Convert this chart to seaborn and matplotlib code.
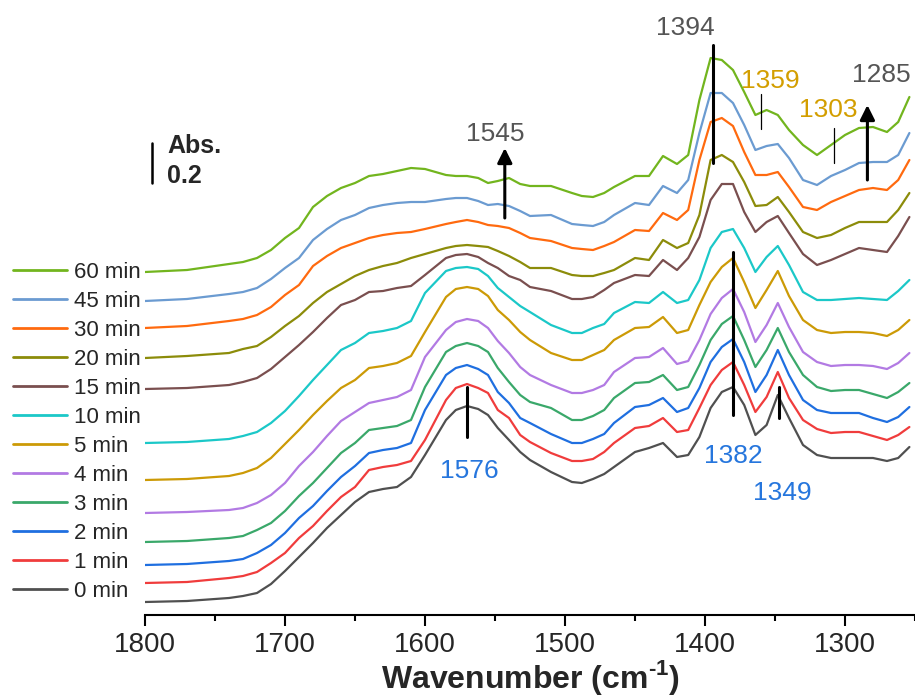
"""Stacked in-situ IR spectra (1800-1254 cm-1) recorded over 60 min."""
import matplotlib
matplotlib.use("Agg")
import matplotlib.pyplot as plt
import pandas as pd
import seaborn as sns
from matplotlib.lines import Line2D

# wavenumber grid (cm-1) and stacked absorbance traces (mAbs, offset included)
WAVENUMBER = [1800, 1770, 1740, 1730, 1720, 1710, 1700, 1690, 1680, 1670,
              1660, 1650, 1640, 1630, 1620, 1610, 1600, 1585, 1578, 1570,
              1562, 1555, 1548, 1540, 1532, 1525, 1510, 1495, 1488, 1480,
              1472, 1465, 1450, 1440, 1430, 1420, 1412, 1404, 1396, 1388,
              1380, 1372, 1364, 1356, 1348, 1340, 1330, 1320, 1310, 1300,
              1290, 1280, 1270, 1262, 1254]

ABS_0 = [65, 70, 85, 95, 110, 155, 220, 290, 360, 435, 500, 565, 615, 630, 640, 690, 800, 975, 1025, 1045,
         1030, 1000, 935, 875, 815, 775, 715, 665, 660, 680, 705, 740, 815, 835, 860, 790, 800, 890, 1035, 1115,
         1140, 1050, 900, 950, 1100, 985, 850, 800, 785, 785, 785, 785, 770, 785, 840]
ABS_1 = [160, 165, 185, 195, 215, 260, 310, 385, 445, 520, 590, 640, 725, 740, 750, 770, 875, 1075, 1135, 1155,
         1135, 1110, 1025, 985, 900, 865, 810, 770, 770, 780, 815, 860, 935, 945, 985, 915, 925, 1035, 1150, 1225,
         1265, 1150, 1015, 1090, 1215, 1085, 975, 930, 910, 915, 915, 895, 875, 900, 940]
ABS_2 = [250, 255, 270, 280, 310, 350, 410, 485, 545, 620, 690, 745, 810, 825, 835, 860, 1025, 1200, 1235, 1250,
         1230, 1200, 1115, 1060, 985, 960, 905, 860, 860, 880, 905, 960, 1040, 1050, 1085, 1015, 1035, 1135, 1265,
         1340, 1380, 1265, 1115, 1200, 1325, 1200, 1075, 1025, 1010, 1010, 1010, 985, 965, 990, 1040]
ABS_3 = [365, 370, 385, 395, 425, 460, 520, 595, 660, 735, 810, 860, 925, 935, 945, 975, 1140, 1315, 1345, 1360,
         1345, 1315, 1235, 1165, 1100, 1065, 1035, 975, 975, 995, 1025, 1085, 1160, 1165, 1200, 1125, 1140, 1250,
         1375, 1455, 1495, 1375, 1240, 1325, 1435, 1315, 1200, 1140, 1120, 1125, 1125, 1105, 1085, 1115, 1160]
ABS_4 = [510, 515, 525, 535, 560, 600, 660, 745, 815, 895, 970, 1015, 1060, 1075, 1090, 1125, 1290, 1425, 1465,
         1480, 1470, 1435, 1370, 1310, 1240, 1200, 1150, 1110, 1110, 1125, 1150, 1215, 1285, 1290, 1335, 1255,
         1270, 1375, 1505, 1585, 1630, 1515, 1365, 1450, 1560, 1440, 1315, 1265, 1245, 1250, 1250, 1245, 1230,
         1260, 1310]
ABS_5 = [675, 680, 695, 710, 735, 785, 855, 925, 1000, 1070, 1135, 1175, 1235, 1245, 1260, 1295, 1415, 1590, 1630,
         1640, 1630, 1595, 1525, 1475, 1415, 1375, 1310, 1275, 1275, 1300, 1325, 1375, 1435, 1440, 1490, 1410,
         1425, 1550, 1665, 1740, 1785, 1665, 1535, 1625, 1720, 1595, 1475, 1425, 1410, 1415, 1415, 1410, 1395,
         1425, 1475]
ABS_10 = [860, 865, 880, 895, 915, 960, 1020, 1095, 1175, 1250, 1325, 1360, 1410, 1420, 1435, 1470, 1610, 1720,
          1735, 1740, 1730, 1695, 1635, 1590, 1545, 1515, 1450, 1410, 1410, 1435, 1455, 1510, 1565, 1560, 1615,
          1560, 1575, 1675, 1835, 1915, 1930, 1835, 1715, 1790, 1845, 1750, 1615, 1575, 1575, 1580, 1585, 1580,
          1575, 1620, 1675]
ABS_15 = [1130, 1135, 1150, 1165, 1185, 1230, 1290, 1350, 1415, 1485, 1550, 1575, 1615, 1620, 1635, 1645, 1700,
          1785, 1800, 1805, 1790, 1760, 1735, 1695, 1675, 1640, 1620, 1580, 1580, 1590, 1625, 1660, 1700, 1695,
          1775, 1725, 1785, 1890, 2075, 2155, 2155, 2015, 1915, 1965, 1995, 1910, 1805, 1750, 1775, 1805, 1835,
          1825, 1815, 1895, 1990]
ABS_20 = [1285, 1295, 1310, 1330, 1345, 1390, 1445, 1495, 1560, 1615, 1655, 1695, 1725, 1745, 1760, 1785, 1805,
          1835, 1845, 1850, 1845, 1840, 1820, 1795, 1765, 1735, 1735, 1700, 1695, 1695, 1710, 1725, 1785, 1775,
          1875, 1835, 1860, 2000, 2275, 2300, 2265, 2165, 2045, 2050, 2090, 2015, 1915, 1885, 1900, 1935, 1965,
          1965, 1965, 2025, 2110]
ABS_30 = [1435, 1445, 1470, 1480, 1500, 1540, 1600, 1650, 1745, 1795, 1835, 1860, 1885, 1900, 1910, 1915, 1930,
          1955, 1965, 1975, 1965, 1950, 1945, 1935, 1910, 1885, 1870, 1835, 1830, 1825, 1845, 1865, 1925, 1920,
          2010, 1975, 2025, 2275, 2465, 2485, 2445, 2315, 2200, 2200, 2215, 2140, 2040, 2025, 2065, 2095, 2125,
          2135, 2125, 2175, 2275]
ABS_45 = [1570, 1580, 1605, 1615, 1635, 1680, 1735, 1785, 1875, 1930, 1975, 2000, 2035, 2050, 2060, 2065, 2065,
          2080, 2085, 2085, 2070, 2050, 2055, 2045, 2020, 1995, 2000, 1955, 1950, 1945, 1965, 2000, 2060, 2050,
          2145, 2110, 2175, 2410, 2610, 2610, 2560, 2450, 2325, 2345, 2355, 2285, 2175, 2150, 2195, 2225, 2260,
          2265, 2265, 2300, 2410]
ABS_60 = [1715, 1725, 1755, 1765, 1785, 1825, 1885, 1935, 2040, 2095, 2135, 2160, 2195, 2205, 2220, 2235, 2230,
          2200, 2195, 2195, 2185, 2160, 2170, 2185, 2155, 2145, 2145, 2110, 2095, 2090, 2110, 2140, 2195, 2195,
          2295, 2255, 2300, 2575, 2785, 2775, 2725, 2615, 2500, 2525, 2500, 2425, 2350, 2300, 2350, 2400, 2435,
          2440, 2415, 2465, 2590]

TIMES = ["0 min", "1 min", "2 min", "3 min", "4 min", "5 min",
         "10 min", "15 min", "20 min", "30 min", "45 min", "60 min"]
TRACES = [ABS_0, ABS_1, ABS_2, ABS_3, ABS_4, ABS_5, ABS_10, ABS_15, ABS_20, ABS_30, ABS_45, ABS_60]
COLORS = ["#505050", "#f03c3c", "#1f6fe0", "#3aa86a", "#b27ae3", "#cc9a06",
          "#1bc8c8", "#7a4f4f", "#8c8c0a", "#ff6a0f", "#6b9bd1", "#72b51e"]

GRAY, GOLD, BLUE = "#555555", "#d39e00", "#2676dd"

sns.set_theme(style="white")
plt.rcParams["font.family"] = ["Liberation Sans", "DejaVu Sans"]
plt.rcParams["mathtext.fontset"] = "custom"
plt.rcParams["mathtext.rm"] = "Liberation Sans:bold"
plt.rcParams["mathtext.bf"] = "Liberation Sans:bold"

long = pd.DataFrame({
    "wavenumber": WAVENUMBER * len(TIMES),
    "absorbance": [v / 1000 for trace in TRACES for v in trace],
    "time": [t for t in TIMES for _ in WAVENUMBER],
})

fig = plt.figure(figsize=(9.15, 6.98), dpi=100)
ax = fig.add_axes([145 / 915, 83 / 698, 770 / 915, 615 / 698])
sns.lineplot(data=long, x="wavenumber", y="absorbance", hue="time", hue_order=TIMES,
             palette=COLORS, estimator=None, sort=False, lw=1.6, legend=False, ax=ax)
for line in ax.lines:
    line.set_solid_joinstyle("round")
    line.set_solid_capstyle("round")

ax.set_xlim(1800, 1254)
ax.set_ylim(0, 3.075)
for side in ["left", "top", "right"]:
    ax.spines[side].set_visible(False)
ax.spines["bottom"].set_linewidth(1.5)
ax.spines["bottom"].set_color("black")
ax.set_yticks([])
ax.set_ylabel("")
ax.set_xticks(range(1800, 1299, -100))
ax.set_xticks(range(1750, 1249, -100), minor=True)
ax.tick_params(axis="x", which="major", direction="out", length=8, width=1.5, color="black",
               labelsize=20, pad=4, bottom=True)
ax.tick_params(axis="x", which="minor", direction="out", length=4.5, width=1.5, color="black", bottom=True)
ax.set_xlabel(r"Wavenumber (cm$^{\text{-1}}$)", fontsize=23, fontweight="bold", labelpad=0)

# legend, newest on top
handles = [Line2D([], [], color=c, lw=2) for c in COLORS][::-1]
fig.legend(handles, TIMES[::-1], loc="upper left", bbox_to_anchor=(13 / 915, 1 - 262 / 698),
           frameon=False, fontsize=16, handlelength=2.45, handletextpad=0.28, labelspacing=0.36,
           borderpad=0, borderaxespad=0)

# scale bar
ax.plot([1795, 1795], [2.16, 2.36], color="black", lw=1.8, clip_on=False)
ax.text(1784, 2.31, "Abs.", fontsize=18, fontweight="bold", ha="left", va="baseline")
ax.text(1784, 2.16, "0.2", fontsize=18, fontweight="bold", ha="left", va="baseline")

# growth arrows
arrow = dict(arrowstyle="-|>", lw=2.2, color="black", mutation_scale=22, shrinkA=0, shrinkB=0)
ax.annotate("", xy=(1543, 2.335), xytext=(1543, 1.985), arrowprops=arrow)
ax.annotate("", xy=(1284, 2.55), xytext=(1284, 2.175), arrowprops=arrow)

# band markers
ax.plot([1394, 1394], [2.26, 2.85], color="black", lw=2.2)
ax.plot([1360, 1360], [2.43, 2.605], color="black", lw=0.9)
ax.plot([1308, 1308], [2.26, 2.435], color="black", lw=0.9)
ax.plot([1570, 1570], [0.89, 1.14], color="black", lw=2.2)
ax.plot([1380, 1380], [1.0, 1.815], color="black", lw=2.2)
ax.plot([1347, 1347], [0.985, 1.14], color="black", lw=2.2)

label = dict(fontsize=19, ha="center", va="baseline")
ax.text(1550, 2.37, "1545", color=GRAY, **label)
ax.text(1414, 2.90, "1394", color=GRAY, **label)
ax.text(1353, 2.635, "1359", color=GOLD, **label)
ax.text(1312, 2.49, "1303", color=GOLD, **label)
ax.text(1295, 2.665, "1285", color=GRAY, fontsize=19, ha="left", va="baseline", clip_on=False)
ax.text(1568, 0.685, "1576", color=BLUE, **label)
ax.text(1379.5, 0.76, "1382", color=BLUE, **label)
ax.text(1344.5, 0.575, "1349", color=BLUE, **label)

fig.savefig("out.png", dpi=100)
